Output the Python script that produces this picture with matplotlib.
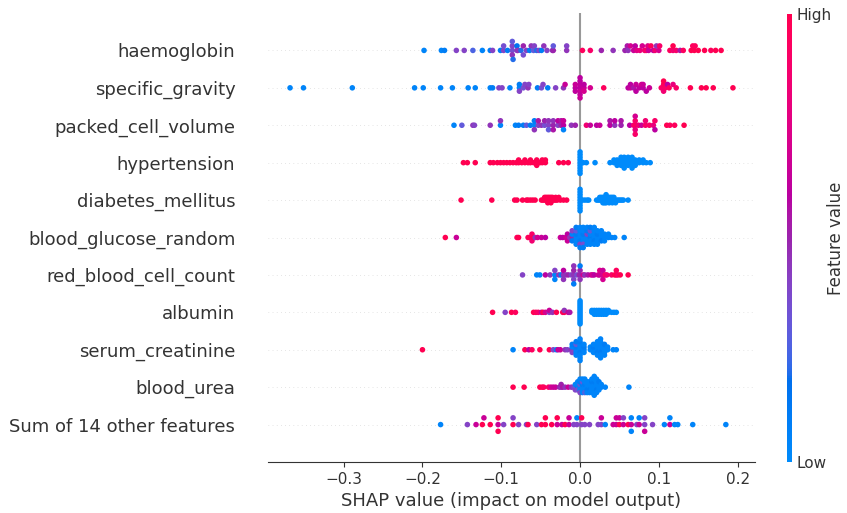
import numpy as np
import matplotlib
matplotlib.use("Agg")
import matplotlib.pyplot as plt
from matplotlib.colors import LinearSegmentedColormap
from matplotlib.cm import ScalarMappable

# ---------------- data (top row first) ----------------
feature_names = ["haemoglobin", "specific_gravity", "packed_cell_volume", "hypertension",
                 "diabetes_mellitus", "blood_glucose_random", "red_blood_cell_count",
                 "albumin", "serum_creatinine", "blood_urea", "Sum of 14 other features"]
x_ticks = [-0.3, -0.2, -0.1, 0.0, 0.1, 0.2]

haemoglobin_shap = [
    -0.198, -0.176, -0.172, -0.157, -0.147, -0.136, -0.124, -0.114, -0.111, -0.101,
    -0.097, -0.097, -0.092, -0.086, -0.086, -0.086, -0.086, -0.085, -0.080, -0.080,
    -0.079, -0.075, -0.072, -0.072, -0.068, -0.064, -0.062, -0.059, -0.058, -0.055,
    -0.052, -0.049, -0.046, -0.042, -0.035, -0.034, -0.034, -0.017, -0.017, 0.003,
    0.013, 0.027, 0.042, 0.057, 0.060, 0.061, 0.064, 0.068, 0.070, 0.072,
    0.076, 0.079, 0.082, 0.084, 0.086, 0.087, 0.090, 0.093, 0.095, 0.097,
    0.100, 0.101, 0.114, 0.118, 0.118, 0.122, 0.127, 0.131, 0.141, 0.143,
    0.145, 0.146, 0.150, 0.158, 0.166, 0.172, 0.179]
haemoglobin_value = [
    0.05, 0.05, 0.1, 0.4, 0.4, 0.25, 0.05, 0.1, 0.4, 0.1,
    0.4, 0.35, 0.1, 0.35, 0.4, 0.45, 0.3, 0.2, 0.4, 0.15,
    0.45, 0.2, 0.5, 0.35, 0.4, 0.1, 0.45, 0.3, 0.4, 0.2,
    0.4, 0.1, 0.45, 0.4, 0.45, 0.5, 0.3, 0.45, 0.4, 0.95,
    0.9, 0.5, 0.45, 0.5, 0.55, 0.45, 0.7, 0.65, 0.6, 0.75,
    0.8, 0.7, 0.85, 0.9, 0.75, 0.65, 0.95, 0.6, 0.85, 0.45,
    0.7, 0.9, 0.95, 0.85, 1.0, 0.9, 0.55, 0.95, 1.0, 0.95,
    1.0, 0.95, 1.0, 1.0, 0.95, 1.0, 1.0]

specific_gravity_shap = [
    -0.368, -0.351, -0.289, -0.210, -0.199, -0.177, -0.162, -0.142, -0.133, -0.114,
    -0.111, -0.103, -0.099, -0.089, -0.077, -0.077, -0.077, -0.072, -0.070, -0.066,
    -0.065, -0.054, -0.049, -0.047, -0.041, -0.031, -0.021, -0.019, -0.006, -0.006,
    -0.006, 0.000, 0.000, 0.000, 0.000, 0.000, 0.000, 0.000, 0.005, 0.005,
    0.005, 0.013, 0.030, 0.061, 0.064, 0.064, 0.068, 0.071, 0.071, 0.075,
    0.078, 0.080, 0.080, 0.084, 0.088, 0.103, 0.106, 0.106, 0.106, 0.108,
    0.111, 0.113, 0.118, 0.122, 0.140, 0.154, 0.160, 0.169, 0.194]
specific_gravity_value = [
    0.05, 0.05, 0.05, 0.05, 0.05, 0.05, 0.05, 0.05, 0.05, 0.05,
    0.1, 0.4, 0.4, 0.05, 0.05, 0.1, 0.4, 0.35, 0.4, 0.45,
    0.4, 0.1, 0.35, 0.4, 0.1, 0.4, 0.45, 0.65, 0.6, 0.65,
    0.62, 0.6, 0.62, 0.65, 0.6, 0.63, 0.6, 0.65, 0.65, 0.6,
    0.7, 0.7, 0.95, 0.6, 0.65, 0.6, 0.55, 0.65, 0.6, 0.62,
    0.7, 0.6, 0.65, 0.6, 0.65, 0.9, 0.95, 0.85, 1.0, 0.9,
    0.6, 0.95, 0.8, 0.9, 1.0, 1.0, 1.0, 1.0, 1.0]

packed_cell_volume_shap = [
    -0.160, -0.150, -0.136, -0.134, -0.114, -0.101, -0.101, -0.082, -0.078, -0.072,
    -0.068, -0.063, -0.058, -0.058, -0.058, -0.053, -0.053, -0.049, -0.045, -0.045,
    -0.040, -0.040, -0.040, -0.034, -0.034, -0.034, -0.028, -0.028, -0.024, -0.024,
    -0.021, -0.021, -0.021, -0.011, -0.006, 0.008, 0.013, 0.021, 0.025, 0.038,
    0.038, 0.044, 0.044, 0.052, 0.052, 0.063, 0.068, 0.070, 0.070, 0.070,
    0.070, 0.070, 0.074, 0.078, 0.083, 0.083, 0.088, 0.093, 0.095, 0.095,
    0.110, 0.114, 0.120, 0.132]
packed_cell_volume_value = [
    0.05, 0.3, 0.45, 0.4, 0.45, 0.05, 0.45, 0.05, 0.1, 0.1,
    0.3, 0.1, 0.05, 0.1, 0.45, 0.4, 0.55, 0.45, 0.35, 0.5,
    0.4, 0.45, 0.3, 0.5, 0.45, 0.55, 0.4, 0.6, 0.5, 0.55,
    0.6, 0.65, 0.05, 0.45, 0.5, 0.85, 0.65, 0.6, 0.65, 0.6,
    0.55, 0.45, 0.6, 0.5, 0.55, 0.6, 0.85, 0.95, 0.9, 0.8,
    0.7, 0.9, 0.85, 0.65, 0.9, 0.85, 0.9, 0.8, 0.9, 0.6,
    1.0, 0.95, 0.95, 1.0]

hypertension_shap = [
    -0.148, -0.143, -0.133, -0.114, -0.110, -0.105, -0.101, -0.097, -0.093, -0.089,
    -0.085, -0.081, -0.078, -0.078, -0.074, -0.070, -0.070, -0.066, -0.063, -0.063,
    -0.059, -0.055, -0.055, -0.055, -0.051, -0.048, -0.048, -0.044, -0.044, -0.027,
    -0.021, -0.015, 0.000, 0.000, 0.000, 0.000, 0.000, 0.000, 0.000, 0.000,
    0.000, 0.004, 0.008, 0.019, 0.038, 0.043, 0.043, 0.047, 0.047, 0.047,
    0.052, 0.052, 0.052, 0.052, 0.056, 0.056, 0.056, 0.056, 0.056, 0.061,
    0.061, 0.061, 0.061, 0.066, 0.066, 0.066, 0.066, 0.066, 0.070, 0.070,
    0.070, 0.075, 0.075, 0.080, 0.080, 0.084, 0.089]
hypertension_value = [
    1, 1, 1, 1, 1, 1, 1, 1, 1, 1,
    1, 1, 1, 1, 1, 1, 1, 1, 1, 1,
    1, 1, 1, 1, 1, 1, 1, 1, 1, 1,
    1, 1, 0, 0, 0, 0, 0, 0, 0, 0,
    0, 0, 0, 0, 0, 0, 0, 0, 0, 0,
    0, 0, 0, 0, 0, 0, 0, 0, 0, 0,
    0, 0, 0, 0, 0, 0, 0, 0, 0, 0,
    0, 0, 0, 0, 0, 0, 0]

diabetes_mellitus_shap = [
    -0.151, -0.112, -0.083, -0.080, -0.073, -0.068, -0.066, -0.063, -0.060, -0.057,
    -0.049, -0.047, -0.045, -0.045, -0.043, -0.043, -0.041, -0.041, -0.041, -0.039,
    -0.039, -0.037, -0.037, -0.037, -0.035, -0.035, -0.033, -0.031, -0.031, -0.029,
    -0.027, -0.025, -0.021, -0.017, 0.000, 0.000, 0.000, 0.000, 0.000, 0.000,
    0.000, 0.000, 0.000, 0.003, 0.006, 0.009, 0.011, 0.021, 0.023, 0.025,
    0.025, 0.027, 0.027, 0.029, 0.029, 0.029, 0.031, 0.031, 0.031, 0.033,
    0.033, 0.033, 0.033, 0.035, 0.035, 0.037, 0.037, 0.037, 0.039, 0.039,
    0.041, 0.041, 0.041, 0.043, 0.043, 0.045, 0.047, 0.049, 0.051, 0.053,
    0.055, 0.061]
diabetes_mellitus_value = [
    1, 1, 1, 1, 1, 1, 1, 1, 1, 1,
    1, 1, 1, 1, 1, 1, 1, 1, 1, 1,
    1, 1, 1, 1, 1, 1, 1, 1, 1, 1,
    1, 1, 1, 1, 0, 0, 0, 0, 0, 0,
    0, 0, 0, 0, 0, 0, 0, 0, 0, 0,
    0, 0, 0, 0, 0, 0, 0, 0, 0, 0,
    0, 0, 0, 0, 0, 0, 0, 0, 0, 0,
    0, 0, 0, 0, 0, 0, 0, 0, 0, 0,
    0, 0]

blood_glucose_random_shap = [
    -0.171, -0.157, -0.080, -0.078, -0.066, -0.063, -0.061, -0.061, -0.059, -0.057,
    -0.054, -0.049, -0.044, -0.025, -0.022, -0.018, -0.016, -0.016, -0.016, -0.013,
    -0.010, -0.010, -0.010, -0.010, -0.005, -0.005, -0.005, -0.005, -0.005, -0.005,
    0.000, 0.000, 0.000, 0.000, 0.000, 0.000, 0.000, 0.004, 0.004, 0.004,
    0.004, 0.004, 0.004, 0.004, 0.009, 0.009, 0.009, 0.009, 0.009, 0.009,
    0.013, 0.013, 0.013, 0.013, 0.013, 0.013, 0.018, 0.018, 0.018, 0.018,
    0.018, 0.018, 0.022, 0.022, 0.022, 0.022, 0.022, 0.027, 0.027, 0.027,
    0.027, 0.031, 0.031, 0.031, 0.036, 0.036, 0.040, 0.044, 0.056]
blood_glucose_random_value = [
    1.0, 0.65, 0.95, 1.0, 0.95, 1.0, 0.9, 0.85, 1.0, 0.45,
    0.7, 0.65, 0.6, 0.65, 0.6, 0.65, 0.7, 0.6, 0.65, 0.45,
    0.5, 0.05, 0.1, 0.4, 0.05, 0.1, 0.05, 0.3, 0.05, 0.1,
    0.05, 0.05, 0.1, 0.05, 0.4, 0.05, 0.1, 0.05, 0.1, 0.05,
    0.05, 0.35, 0.05, 0.1, 0.05, 0.4, 0.05, 0.1, 0.05, 0.05,
    0.1, 0.05, 0.05, 0.3, 0.05, 0.1, 0.05, 0.05, 0.1, 0.05,
    0.05, 0.05, 0.05, 0.1, 0.05, 0.05, 0.05, 0.05, 0.05, 0.1,
    0.05, 0.05, 0.05, 0.05, 0.05, 0.05, 0.05, 0.05, 0.05]

red_blood_cell_count_shap = [
    -0.073, -0.055, -0.051, -0.044, -0.038, -0.032, -0.032, -0.032, -0.027, -0.024,
    -0.021, -0.021, -0.021, -0.018, -0.015, -0.011, -0.008, -0.008, -0.008, -0.008,
    -0.008, -0.004, -0.001, 0.000, 0.000, 0.000, 0.004, 0.006, 0.010, 0.014,
    0.016, 0.018, 0.023, 0.025, 0.025, 0.029, 0.029, 0.029, 0.032, 0.034,
    0.040, 0.044, 0.046, 0.046, 0.048, 0.051, 0.061]
red_blood_cell_count_value = [
    0.4, 0.05, 0.05, 0.6, 0.45, 0.05, 0.4, 0.05, 0.45, 0.1,
    0.45, 0.6, 0.45, 0.45, 0.5, 0.4, 0.45, 0.5, 0.4, 0.45,
    0.1, 0.35, 0.5, 0.5, 0.45, 0.1, 0.7, 0.45, 0.55, 0.65,
    0.7, 0.6, 0.7, 0.65, 0.75, 0.7, 0.65, 0.7, 0.9, 0.85,
    0.9, 1.0, 1.0, 0.95, 0.9, 1.0, 1.0]

albumin_shap = [
    -0.111, -0.095, -0.087, -0.082, -0.059, -0.056, -0.053, -0.049, -0.047, -0.044,
    -0.039, -0.039, -0.035, -0.030, -0.022, -0.020, -0.020, -0.015, -0.013, 0.000,
    0.000, 0.000, 0.000, 0.000, 0.000, 0.000, 0.000, 0.000, 0.000, 0.000,
    0.000, 0.000, 0.015, 0.015, 0.018, 0.018, 0.018, 0.021, 0.021, 0.021,
    0.024, 0.024, 0.024, 0.027, 0.027, 0.027, 0.030, 0.030, 0.030, 0.033,
    0.033, 0.033, 0.036, 0.036, 0.040, 0.043, 0.046]
albumin_value = [
    1.0, 0.4, 1.0, 0.95, 1.0, 0.95, 0.9, 0.65, 1.0, 0.7,
    0.4, 0.65, 0.45, 1.0, 0.95, 1.0, 0.45, 0.65, 0.55, 0.0,
    0.0, 0.0, 0.0, 0.0, 0.0, 0.0, 0.0, 0.0, 0.0, 0.0,
    0.0, 0.0, 0.0, 0.0, 0.0, 0.0, 0.0, 0.0, 0.0, 0.0,
    0.0, 0.0, 0.0, 0.0, 0.0, 0.0, 0.0, 0.0, 0.0, 0.0,
    0.0, 0.0, 0.0, 0.0, 0.0, 0.0, 0.0]

serum_creatinine_shap = [
    -0.200, -0.085, -0.070, -0.065, -0.061, -0.051, -0.039, -0.034, -0.030, -0.028,
    -0.025, -0.019, -0.016, -0.011, -0.010, -0.010, -0.010, -0.005, -0.005, -0.005,
    -0.005, -0.005, -0.005, 0.000, 0.000, 0.000, 0.000, 0.000, 0.000, 0.000,
    0.000, 0.000, 0.005, 0.005, 0.005, 0.005, 0.013, 0.013, 0.017, 0.017,
    0.017, 0.017, 0.022, 0.022, 0.022, 0.022, 0.022, 0.022, 0.026, 0.026,
    0.026, 0.026, 0.026, 0.026, 0.026, 0.026, 0.031, 0.031, 0.031, 0.031,
    0.031, 0.035, 0.035, 0.042, 0.046]
serum_creatinine_value = [
    1.0, 0.05, 1.0, 0.6, 0.95, 1.0, 1.0, 0.4, 0.05, 0.65,
    0.65, 0.45, 0.4, 0.45, 0.05, 0.4, 0.1, 0.05, 0.1, 0.05,
    0.3, 0.05, 0.1, 0.05, 0.05, 0.1, 0.05, 0.05, 0.1, 0.05,
    0.05, 0.05, 0.05, 0.1, 0.05, 0.05, 0.05, 0.05, 0.05, 0.1,
    0.05, 0.05, 0.05, 0.05, 0.1, 0.05, 0.05, 0.05, 0.05, 0.05,
    0.1, 0.05, 0.05, 0.05, 0.05, 0.05, 0.05, 0.05, 0.05, 0.1,
    0.05, 0.05, 0.05, 0.05, 0.05]

blood_urea_shap = [
    -0.085, -0.071, -0.051, -0.048, -0.046, -0.040, -0.037, -0.034, -0.031, -0.026,
    -0.024, -0.024, -0.022, -0.019, -0.015, -0.011, -0.008, -0.004, -0.001, -0.006,
    -0.006, -0.006, -0.003, -0.003, -0.003, -0.003, 0.000, 0.000, 0.000, 0.000,
    0.000, 0.000, 0.003, 0.003, 0.003, 0.003, 0.003, 0.003, 0.006, 0.006,
    0.006, 0.006, 0.006, 0.006, 0.009, 0.009, 0.009, 0.009, 0.009, 0.012,
    0.012, 0.012, 0.012, 0.012, 0.015, 0.015, 0.015, 0.015, 0.015, 0.015,
    0.018, 0.018, 0.018, 0.018, 0.018, 0.018, 0.018, 0.018, 0.021, 0.021,
    0.021, 0.021, 0.021, 0.021, 0.024, 0.024, 0.024, 0.024, 0.027, 0.027,
    0.032, 0.062]
blood_urea_value = [
    1.0, 1.0, 1.0, 1.0, 0.95, 0.9, 0.7, 0.65, 0.65, 0.5,
    0.45, 0.5, 0.55, 0.45, 0.65, 0.45, 0.4, 0.45, 1.0, 0.3,
    0.05, 0.4, 0.1, 0.05, 0.35, 0.05, 0.05, 0.3, 0.05, 0.1,
    0.4, 0.05, 0.05, 0.1, 0.05, 0.3, 0.05, 0.05, 0.05, 0.1,
    0.05, 0.05, 0.25, 0.05, 0.05, 0.05, 0.1, 0.05, 0.05, 0.05,
    0.05, 0.1, 0.05, 0.05, 0.05, 0.05, 0.05, 0.1, 0.05, 0.05,
    0.05, 0.05, 0.05, 0.1, 0.05, 0.05, 0.05, 0.05, 0.05, 0.05,
    0.1, 0.05, 0.05, 0.05, 0.05, 0.05, 0.05, 0.1, 0.05, 0.05,
    0.05, 0.05]

other_features_shap = [
    -0.177, -0.143, -0.132, -0.124, -0.122, -0.114, -0.104, -0.104, -0.104, -0.097,
    -0.085, -0.085, -0.078, -0.068, -0.066, -0.055, -0.049, -0.044, -0.044, -0.036,
    -0.029, -0.029, -0.023, -0.019, -0.014, -0.014, -0.008, -0.004, -0.004, 0.002,
    0.002, 0.006, 0.012, 0.023, 0.027, 0.027, 0.032, 0.042, 0.046, 0.046,
    0.050, 0.050, 0.055, 0.055, 0.061, 0.065, 0.065, 0.065, 0.072, 0.075,
    0.075, 0.082, 0.082, 0.082, 0.092, 0.107, 0.114, 0.114, 0.120, 0.124,
    0.143, 0.185]
other_features_value = [
    0.05, 0.4, 0.65, 1.0, 0.65, 1.0, 0.65, 1.0, 1.0, 0.4,
    1.0, 0.4, 0.4, 0.4, 1.0, 0.4, 1.0, 1.0, 1.0, 1.0,
    0.65, 1.0, 0.65, 1.0, 0.65, 0.65, 0.4, 0.4, 0.05, 0.4,
    1.0, 0.4, 0.4, 0.4, 0.4, 0.65, 0.05, 0.65, 0.65, 0.65,
    1.0, 0.65, 0.65, 0.4, 1.0, 0.65, 0.05, 0.05, 0.4, 0.65,
    0.05, 0.4, 0.4, 0.65, 0.4, 0.05, 0.65, 0.05, 0.05, 0.05,
    0.05, 0.05]

rows = [
    (haemoglobin_shap, haemoglobin_value),
    (specific_gravity_shap, specific_gravity_value),
    (packed_cell_volume_shap, packed_cell_volume_value),
    (hypertension_shap, hypertension_value),
    (diabetes_mellitus_shap, diabetes_mellitus_value),
    (blood_glucose_random_shap, blood_glucose_random_value),
    (red_blood_cell_count_shap, red_blood_cell_count_value),
    (albumin_shap, albumin_value),
    (serum_creatinine_shap, serum_creatinine_value),
    (blood_urea_shap, blood_urea_value),
    (other_features_shap, other_features_value),
]
for name, (s, v) in zip(feature_names, rows):
    assert len(s) == len(v), (name, len(s), len(v))


# ---------------- SHAP-like red/blue colormap (LCH interpolation) ----------------
def lch_to_rgb(L, C, h):
    a = C * np.cos(h)
    b = C * np.sin(h)
    fy = (L + 16) / 116
    fx = fy + a / 500
    fz = fy - b / 200

    def finv(t):
        return np.where(t ** 3 > 0.008856, t ** 3, (t - 16 / 116) / 7.787)

    X = 0.95047 * finv(fx)
    Y = finv(fy)
    Z = 1.08883 * finv(fz)
    r = 3.2406 * X - 1.5372 * Y - 0.4986 * Z
    g = -0.9689 * X + 1.8758 * Y + 0.0415 * Z
    bl = 0.0557 * X - 0.2040 * Y + 1.0570 * Z
    rgb = np.stack([r, g, bl], -1)
    rgb = np.where(rgb <= 0.0031308, 12.92 * rgb, 1.055 * np.abs(rgb) ** (1 / 2.4) - 0.055)
    return np.clip(rgb, 0, 1)


nsteps = 100
l_vals = np.concatenate([np.linspace(54.0, 40.0, nsteps // 2), np.linspace(40.0, 54.0, nsteps // 2)])
c_vals = np.linspace(70.0, 90.0, nsteps)
h_vals = np.linspace(4.6588, 0.35470565 + 2 * np.pi, nsteps)
cmap = LinearSegmentedColormap.from_list("red_blue", lch_to_rgb(l_vals, c_vals, h_vals))


# ---------------- beeswarm offsets (shap algorithm) ----------------
def swarm_offsets(vals, row_height=0.4, nbins=100):
    vals = np.asarray(vals, dtype=float)
    n = len(vals)
    quant = np.round(nbins * (vals - vals.min()) / (vals.max() - vals.min() + 1e-8))
    inds = np.argsort(quant, kind="stable")
    layer = 0
    last_bin = -1
    ys = np.zeros(n)
    for ind in inds:
        if quant[ind] != last_bin:
            layer = 0
        ys[ind] = np.ceil(layer / 2) * ((layer % 2) * 2 - 1)
        layer += 1
        last_bin = quant[ind]
    ys *= 0.9 * (row_height / np.max(ys + 1))
    return ys


# ---------------- figure ----------------
TEXT = "#333333"
W, H = 847, 513
fig = plt.figure(figsize=(W / 100, H / 100), dpi=100)
ax = fig.add_axes([268 / W, 1 - 462 / H, (755 - 268) / W, (462 - 13) / H])

n_rows = len(rows)
for i, (s, v) in enumerate(rows):
    pos = n_rows - 1 - i
    ax.axhline(y=pos, color="#cccccc", lw=0.5, dashes=(1, 5), zorder=-1)
    ys = swarm_offsets(s)
    ax.scatter(s, pos + ys, c=v, cmap=cmap, vmin=0, vmax=1, s=16,
               linewidths=0, alpha=1, zorder=3)

ax.axvline(x=0, color="#999999", zorder=-1)
ax.set_ylim(-1, n_rows)
ax.set_xlim(-0.396, 0.222)
ax.set_yticks(range(n_rows))
ax.set_yticklabels(list(reversed(feature_names)), fontsize=13, color=TEXT)
ax.set_xticks(x_ticks)
ax.tick_params(axis="y", length=0, pad=23.5)
ax.tick_params(axis="x", labelsize=11, labelcolor=TEXT, color=TEXT)
for side in ("top", "right", "left"):
    ax.spines[side].set_visible(False)
ax.spines["bottom"].set_color(TEXT)
ax.set_xlabel("SHAP value (impact on model output)", fontsize=13, color=TEXT)

# colorbar
cax = fig.add_axes([787 / W, 1 - 462 / H, 4.5 / W, (462 - 14) / H])
sm = ScalarMappable(cmap=cmap)
sm.set_array([0, 1])
cb = fig.colorbar(sm, cax=cax, ticks=[0, 1])
cb.set_ticklabels(["Low", "High"])
cb.ax.tick_params(labelsize=11, length=0, labelcolor=TEXT)
cb.set_label("Feature value", size=12, labelpad=-3, color=TEXT)
cb.outline.set_visible(False)

fig.savefig("out.png", dpi=100)
